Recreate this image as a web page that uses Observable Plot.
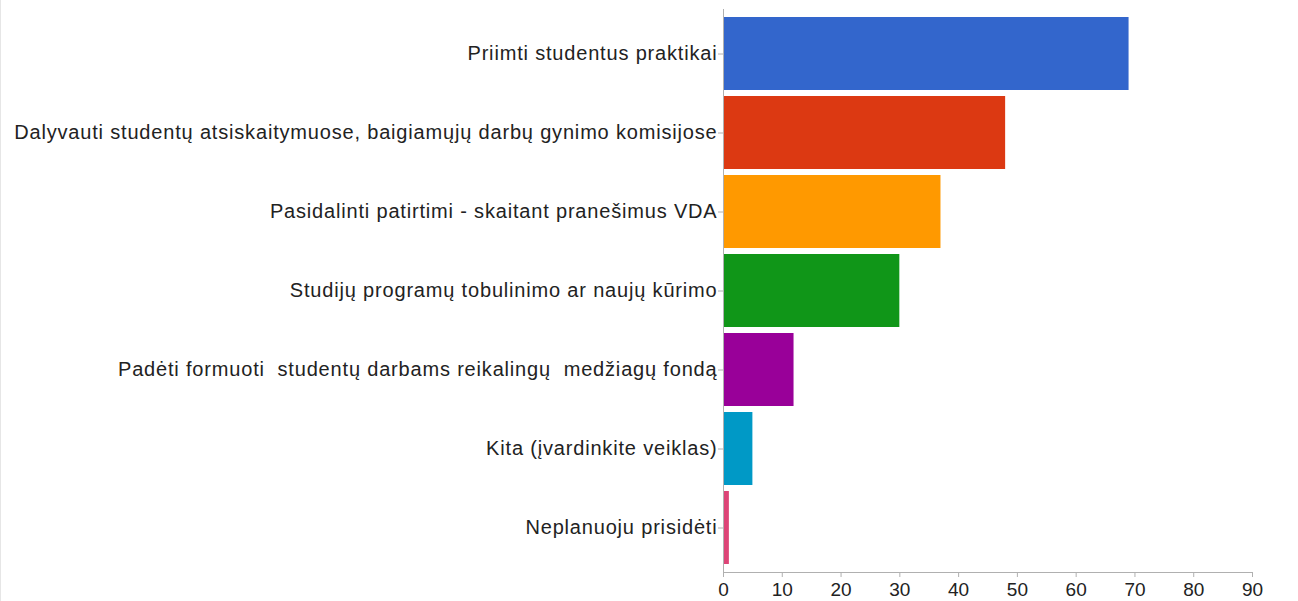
<!DOCTYPE html>
<html>
<head>
<meta charset="utf-8">
<script src="https://cdn.jsdelivr.net/npm/d3@7"></script>
<script src="https://cdn.jsdelivr.net/npm/@observablehq/plot@0.6"></script>
<style>
  html, body { margin: 0; padding: 0; background: #fff; }
  body { width: 1297px; border-left: 1px solid #e6e6e6; }
  #chart svg { display: block; }
  #chart svg g[aria-label="y-axis tick label"] { letter-spacing: 0.82px; }
</style>
</head>
<body>
<div id="chart"></div>
<script>
const categories = [
  "Priimti studentus praktikai",
  "Dalyvauti studentų atsiskaitymuose, baigiamųjų darbų gynimo komisijose",
  "Pasidalinti patirtimi - skaitant pranešimus VDA",
  "Studijų programų tobulinimo ar naujų kūrimo",
  "Padėti formuoti  studentų darbams reikalingų  medžiagų fondą",
  "Kita (įvardinkite veiklas)",
  "Neplanuoju prisidėti"
];
const values = [69, 48, 37, 30, 12, 5, 1];
const colors = ["#3366cc", "#dc3912", "#ff9900", "#109618", "#990099", "#0099c6", "#dd4477"];
const xTicks = [0, 10, 20, 30, 40, 50, 60, 70, 80, 90];

const data = categories.map((c, i) => ({category: c, value: values[i], color: colors[i]}));

const chart = Plot.plot({
  width: 1297,
  height: 601,
  marginLeft: 722,
  marginRight: 46,
  marginTop: 9,
  marginBottom: 29,
  style: {fontFamily: "'Liberation Sans', Arial, sans-serif", fontSize: "20px", color: "#222", background: "#fff"},
  x: {domain: [0, 90], ticks: xTicks, label: null},
  y: {domain: categories, label: null, paddingInner: 0.08, paddingOuter: 0.075},
  marks: [
    Plot.barX(data, {x: "value", y: "category", fill: "color"}),
    Plot.frame({anchor: "left", stroke: "#b0b0b0"}),
    Plot.frame({anchor: "bottom", stroke: "#b0b0b0"}),
    Plot.axisY({tickSize: 5, tickPadding: 1, stroke: "#b0b0b0", fill: "#222", fontSize: 20, label: null, textOverflow: null}),
    Plot.axisX({ticks: xTicks, tickSize: 5, tickPadding: 5, stroke: "#b0b0b0", fill: "#222", fontSize: 19, label: null, tickFormat: d => String(d)})
  ]
});
document.getElementById("chart").appendChild(chart);
</script>
</body>
</html>
